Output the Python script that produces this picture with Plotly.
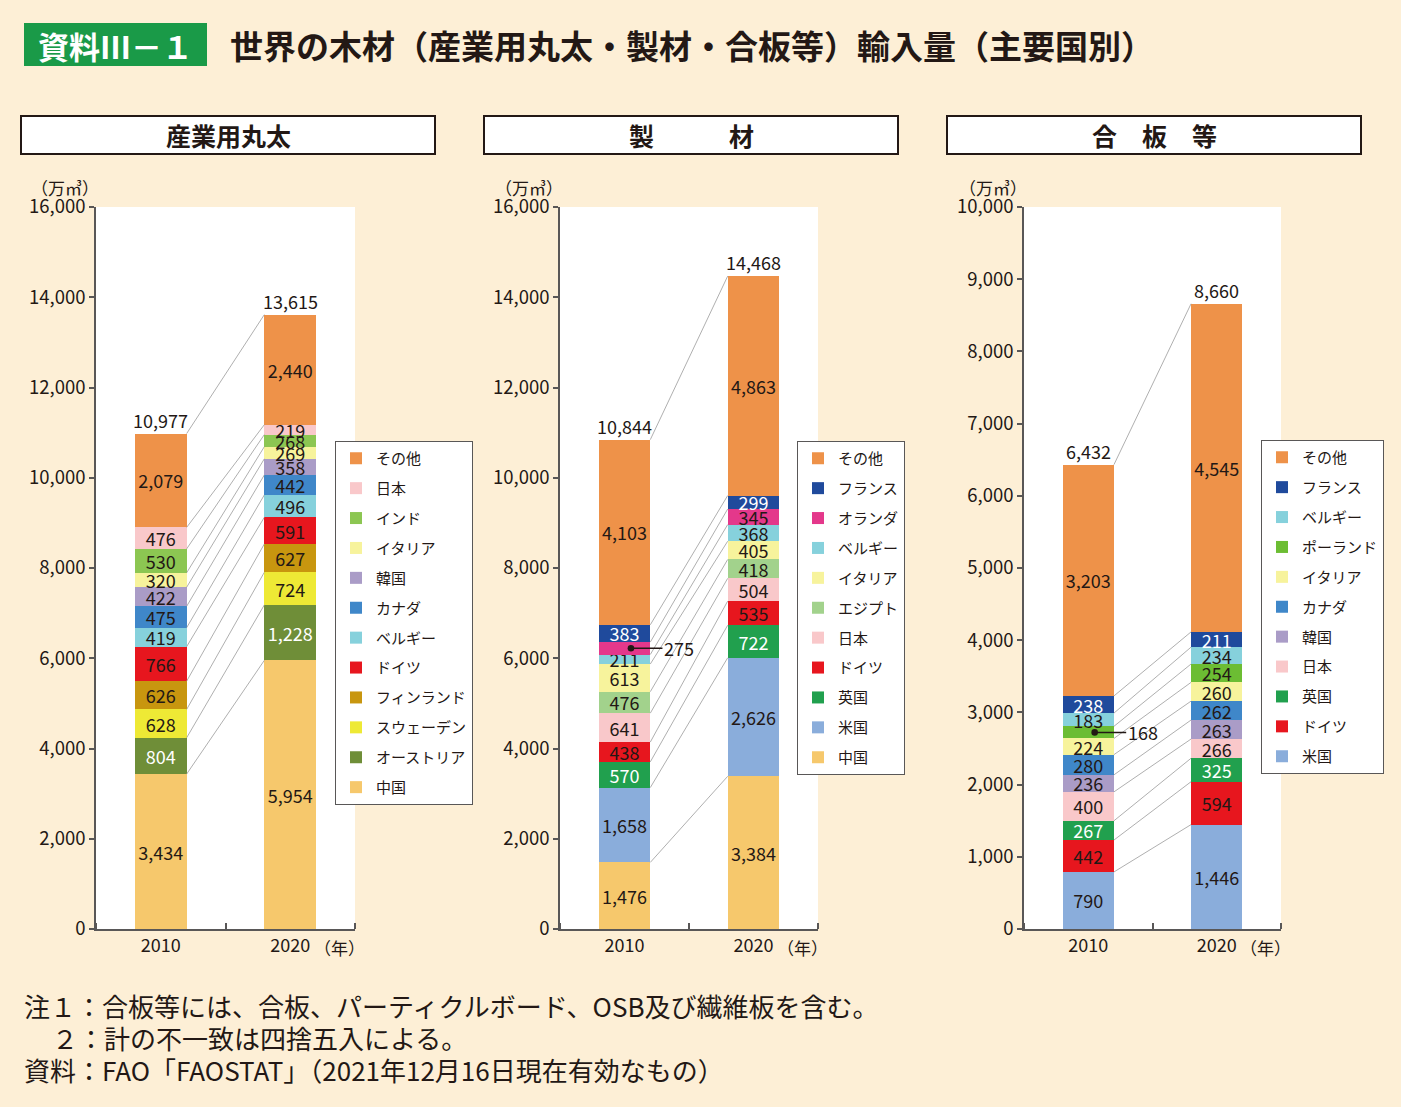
import plotly.graph_objects as go
import numpy as np

W, H = 1401, 1107
FONT = "Noto Sans CJK JP"
DARK = "#231815"
AXC = "#595757"
BG = "#FDEFD6"

years = ["2010", "2020"]

# ---- 産業用丸太 (bottom -> top)
logs_countries = ["中国", "オーストリア", "スウェーデン", "フィンランド", "ドイツ", "ベルギー",
                  "カナダ", "韓国", "イタリア", "インド", "日本", "その他"]
logs_2010 = [3434, 804, 628, 626, 766, 419, 475, 422, 320, 530, 476, 2079]
logs_2020 = [5954, 1228, 724, 627, 591, 496, 442, 358, 269, 268, 219, 2440]
logs_total = [10977, 13615]

# ---- 製材 (bottom -> top)
lumber_countries = ["中国", "米国", "英国", "ドイツ", "日本", "エジプト", "イタリア",
                    "ベルギー", "オランダ", "フランス", "その他"]
lumber_2010 = [1476, 1658, 570, 438, 641, 476, 613, 211, 275, 383, 4103]
lumber_2020 = [3384, 2626, 722, 535, 504, 418, 405, 368, 345, 299, 4863]
lumber_total = [10844, 14468]

# ---- 合板等 (bottom -> top)
panel_countries = ["米国", "ドイツ", "英国", "日本", "韓国", "カナダ", "イタリア",
                   "ポーランド", "ベルギー", "フランス", "その他"]
panel_2010 = [790, 442, 267, 400, 236, 280, 224, 168, 183, 238, 3203]
panel_2020 = [1446, 594, 325, 266, 263, 262, 260, 254, 234, 211, 4545]
panel_total = [6432, 8660]

colors = {
    "その他": "#EE9249", "日本": "#F9C8CA", "インド": "#8CC652", "イタリア": "#F7F39C",
    "韓国": "#AA9CC7", "カナダ": "#3F87C9", "ベルギー": "#86D1DC", "ドイツ": "#E7161E",
    "フィンランド": "#C8960F", "スウェーデン": "#EEE935", "オーストリア": "#6F8E38",
    "中国": "#F6C86C", "フランス": "#1F4A9C", "オランダ": "#E4388B", "エジプト": "#A2D28C",
    "英国": "#21A04E", "米国": "#8AADDB", "ポーランド": "#6CBD33",
}
white_text = {"フランス", "英国", "オーストリア"}

panels = [
    dict(countries=logs_countries, v10=logs_2010, v20=logs_2020, total=logs_total,
         ymax=16000, dtick=2000, x0=96, x1=355, title="産業用丸太", box=(21, 435),
         legend=(335, 441), leader=None),
    dict(countries=lumber_countries, v10=lumber_2010, v20=lumber_2020, total=lumber_total,
         ymax=16000, dtick=2000, x0=560, x1=818, title="製　　　材", box=(484, 898),
         legend=(797, 441), leader="オランダ"),
    dict(countries=panel_countries, v10=panel_2010, v20=panel_2020, total=panel_total,
         ymax=10000, dtick=1000, x0=1024, x1=1281, title="合　板　等", box=(947, 1361),
         legend=(1261, 440), leader="ポーランド"),
]


def px(x):
    return x / W


def py(y):
    return 1 - y / H


fig = go.Figure()
shapes = []
annotations = []
BW = 0.4


def ann(x, y, text, size, xanchor="center", yanchor="middle", color=DARK, weight="normal"):
    annotations.append(dict(x=px(x), y=py(y), xref="paper", yref="paper", text=text,
                            showarrow=False, xanchor=xanchor, yanchor=yanchor,
                            font=dict(family=FONT, size=size, color=color, weight=weight)))


for p, P in enumerate(panels):
    sfx = "" if p == 0 else str(p + 1)
    xa, ya = "x" + sfx, "y" + sfx
    lg = "legend" + sfx
    n = len(P["countries"])
    for i, c in enumerate(P["countries"]):
        a, b = P["v10"][i], P["v20"][i]
        t10 = "" if c == P["leader"] else f"{a:,}"
        fig.add_trace(go.Bar(
            x=[0, 1], y=[a, b], name=c, width=BW,
            marker=dict(color=colors[c], line=dict(width=0)),
            text=[t10, f"{b:,}"], textposition="inside", insidetextanchor="middle",
            textangle=0,
            textfont=dict(family=FONT, size=18, color="white" if c in white_text else DARK),
            xaxis=xa, yaxis=ya, legend=lg, legendgroup=f"g{p}_{i}", legendrank=n - i,
            hoverinfo="skip",
        ))
    # leader label
    if P["leader"]:
        k = P["countries"].index(P["leader"])
        mid = sum(P["v10"][:k]) + P["v10"][k] / 2
        annotations.append(dict(
            x=0.05, y=mid, xref=xa, yref=ya, text=f"{P['v10'][k]:,}", showarrow=True,
            ax=48, ay=0, arrowhead=6, arrowsize=1.1, arrowwidth=1.5, arrowcolor=DARK,
            standoff=0, xanchor="center", yanchor="middle",
            font=dict(family=FONT, size=18, color=DARK)))
    # connecting lines
    c10 = np.cumsum(P["v10"])
    c20 = np.cumsum(P["v20"])
    for a, b in zip(c10, c20):
        shapes.append(dict(type="line", xref=xa, yref=ya, x0=BW / 2, x1=1 - BW / 2,
                           y0=a, y1=b, line=dict(color="#9A9A9A", width=0.8), layer="above"))
    # totals
    for j in range(2):
        annotations.append(dict(x=j, y=P["total"][j], xref=xa, yref=ya,
                                text=f"{P['total'][j]:,}", showarrow=False,
                                xanchor="center", yanchor="bottom", yshift=-1,
                                font=dict(family=FONT, size=18, color=DARK)))
    # axes
    fig.update_layout(**{
        ("xaxis" + sfx): dict(domain=[px(P["x0"]), px(P["x1"])], range=[-0.5, 1.5],
                             tickmode="array", tickvals=[0, 1], ticktext=years, ticks="",
                             showline=True, linecolor=AXC, linewidth=1.5, showgrid=False,
                             zeroline=False, fixedrange=True, automargin=False,
                             tickfont=dict(family=FONT, size=18, color=DARK),
                             minor=dict(tickmode="array", tickvals=[-0.5, 0.5, 1.5],
                                        ticks="inside", ticklen=6, tickcolor=AXC, tickwidth=1.5),
                             anchor=ya),
        ("yaxis" + sfx): dict(domain=[py(929), py(207)], range=[0, P["ymax"]],
                             dtick=P["dtick"], tickformat=",d", ticks="outside", ticklen=5,
                             tickcolor=AXC, tickwidth=1.5, showline=True, linecolor=AXC,
                             linewidth=1.5, showgrid=False, zeroline=False, automargin=False,
                             tickfont=dict(family=FONT, size=18.5, color=DARK), anchor=xa),
        lg: dict(x=px(P["legend"][0]), y=py(P["legend"][1]), xanchor="left", yanchor="top",
                 bgcolor="white", bordercolor=AXC, borderwidth=1, traceorder="grouped",
                 tracegroupgap=7.4, font=dict(family=FONT, size=15, color=DARK)),
    })
    # units and year
    ann(P["x0"] + 5, 187, "（万㎥）", 17, xanchor="right")
    ann(P["x1"] + 12, 947, "（年）", 17, xanchor="right")
    # panel title box
    bx0, bx1 = P["box"]
    shapes.append(dict(type="rect", xref="paper", yref="paper", x0=px(bx0), x1=px(bx1),
                       y0=py(154), y1=py(116), fillcolor="white",
                       line=dict(color=DARK, width=2), layer="below"))
    ann((bx0 + bx1) / 2, 135, P["title"], 25, weight="bold")

# header
shapes.append(dict(type="rect", xref="paper", yref="paper", x0=px(24), x1=px(207),
                   y0=py(66), y1=py(23), fillcolor="#1A9A48", line=dict(width=0), layer="below"))
ann(115, 45, "資料Ⅲ－１", 31, color="white", weight="bold")
ann(228, 45, "世界の木材（産業用丸太・製材・合板等）輸入量（主要国別）", 33,
    xanchor="left", weight="bold")

# notes
ann(22, 1005, "注１：合板等には、合板、パーティクルボード、OSB及び繊維板を含む。", 26, xanchor="left")
ann(50, 1037, "２：計の不一致は四捨五入による。", 26, xanchor="left")
ann(22, 1069, "資料：FAO「FAOSTAT」（2021年12月16日現在有効なもの）", 26, xanchor="left")

fig.update_layout(
    template="none",
    width=W, height=H, autosize=False,
    margin=dict(l=0, r=0, t=0, b=0, pad=0, autoexpand=False),
    paper_bgcolor=BG, plot_bgcolor="white",
    barmode="stack", showlegend=True,
    uniformtext=dict(minsize=18, mode="show"),
    shapes=shapes, annotations=annotations,
    font=dict(family=FONT, color=DARK),
)

fig.write_html("out.html", config={"responsive": False, "displayModeBar": False},
               post_script="document.body.style.margin='0px';document.body.style.overflow='hidden';")
